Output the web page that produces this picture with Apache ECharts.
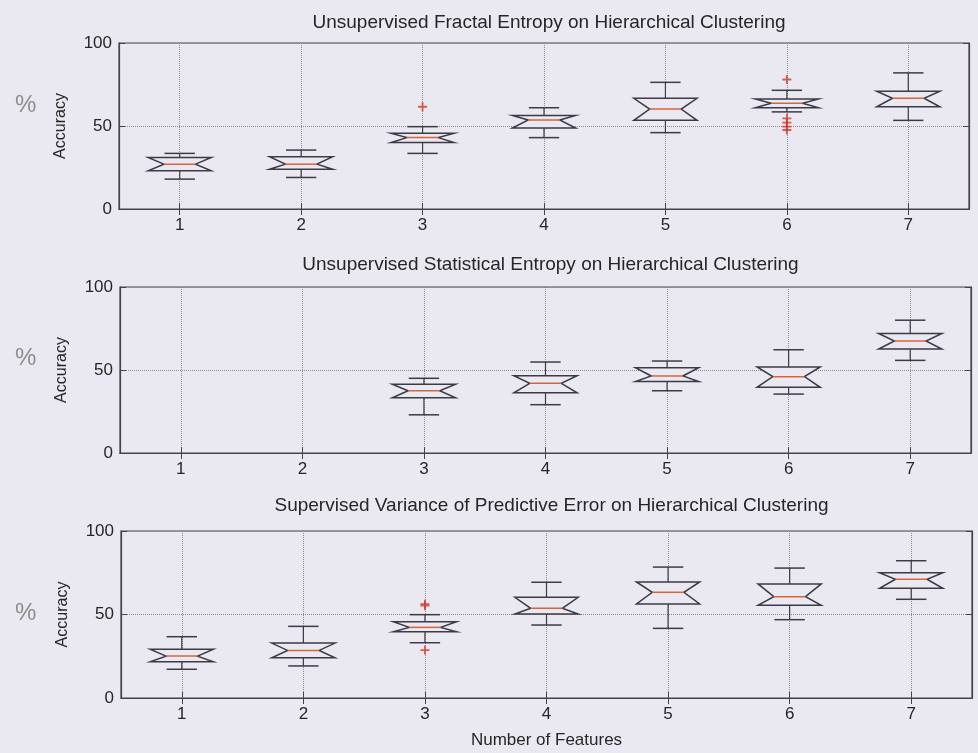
<!DOCTYPE html>
<html>
<head>
<meta charset="utf-8">
<title>Accuracy vs Number of Features</title>
<script src="https://cdn.jsdelivr.net/npm/echarts@6/dist/echarts.min.js"></script>
<style>
  html, body { margin: 0; padding: 0; background: #eae9f1; }
  #chart { width: 978px; height: 753px; }
</style>
</head>
<body>
<div id="chart"></div>
<script>
// Feature counts along the x axis
const features = ['1', '2', '3', '4', '5', '6', '7'];
const yTicks = [0, 50, 100];

// Unsupervised Fractal Entropy on Hierarchical Clustering
const fractalLow      = [18.0, 19.0, 33.5, 43.0, 46.0, 58.5, 53.4];
const fractalQ1       = [23.0, 24.0, 40.0, 48.8, 53.4, 61.0, 61.6];
const fractalMedian   = [27.0, 27.0, 43.0, 53.6, 60.2, 63.7, 66.7];
const fractalQ3       = [31.0, 31.5, 45.6, 56.4, 66.7, 66.3, 70.9];
const fractalHigh     = [33.5, 35.5, 49.6, 61.0, 76.3, 71.5, 82.0];
const fractalOutliers = [['3', 61.6], ['6', 78.0], ['6', 54.6], ['6', 52.0], ['6', 49.6], ['6', 47.6]];

// Unsupervised Statistical Entropy on Hierarchical Clustering (no result for 1 and 2 features)
const statLow      = [null, null, 23.0, 29.1, 37.5, 35.5, 55.8];
const statQ1       = [null, null, 33.3, 36.3, 43.0, 39.6, 62.6];
const statMedian   = [null, null, 37.5, 42.0, 46.4, 46.0, 67.5];
const statQ3       = [null, null, 41.4, 46.6, 51.4, 51.8, 72.0];
const statHigh     = [null, null, 45.0, 54.8, 55.4, 62.2, 80.0];
const statOutliers = [];

// Supervised Variance of Predictive Error on Hierarchical Clustering
const varLow      = [17.2, 19.2, 33.1, 43.7, 41.7, 46.9, 59.1];
const varQ1       = [21.7, 24.1, 39.7, 50.3, 56.3, 55.5, 65.7];
const varMedian   = [25.1, 28.5, 42.3, 53.7, 63.3, 60.7, 71.1];
const varQ3       = [29.2, 32.9, 45.7, 60.3, 69.5, 68.3, 75.0];
const varHigh     = [36.7, 42.9, 49.9, 69.3, 78.4, 77.8, 82.2];
const varOutliers = [['3', 55.3], ['3', 56.2], ['3', 28.7]];

const panelTitles = [
  'Unsupervised Fractal Entropy on Hierarchical Clustering',
  'Unsupervised Statistical Entropy on Hierarchical Clustering',
  'Supervised Variance of Predictive Error on Hierarchical Clustering'
];

const FONT = '"Liberation Sans", Arial, sans-serif';
const INK = '#262626';
const BOX_INK = '#3b3b48';
const MEDIAN_INK = '#d8643c';
const OUTLIER_INK = '#d23a2a';
const GRID_INK = '#8a8a8a';

const panels = [
  { low: fractalLow, q1: fractalQ1, med: fractalMedian, q3: fractalQ3, high: fractalHigh, out: fractalOutliers },
  { low: statLow, q1: statQ1, med: statMedian, q3: statQ3, high: statHigh, out: statOutliers },
  { low: varLow, q1: varQ1, med: varMedian, q3: varQ3, high: varHigh, out: varOutliers }
];

const grids = [
  { left: 119, top: 43, width: 850, height: 166 },
  { left: 120, top: 287, width: 851, height: 166 },
  { left: 121, top: 531, width: 851, height: 167 }
];
const titleY = [8, 250, 491];

// Notched box: bow-tie outline between the quartiles, median bar, whiskers and caps
function renderNotchedBox(params, api) {
  const idx = api.value(0);
  const pLo = api.coord([idx, api.value(1)]);
  const pQ1 = api.coord([idx, api.value(2)]);
  const pMd = api.coord([idx, api.value(3)]);
  const pQ3 = api.coord([idx, api.value(4)]);
  const pHi = api.coord([idx, api.value(5)]);
  const band = api.size([1, 0])[0];
  const half = band * 0.26;
  const inset = half * 0.5;
  const cap = band * 0.125;
  const cx = pMd[0];
  return {
    type: 'group',
    children: [
      { type: 'line', shape: { x1: cx, y1: pQ3[1], x2: cx, y2: pHi[1] }, style: { stroke: BOX_INK, lineWidth: 1.2 } },
      { type: 'line', shape: { x1: cx, y1: pQ1[1], x2: cx, y2: pLo[1] }, style: { stroke: BOX_INK, lineWidth: 1.2 } },
      { type: 'line', shape: { x1: cx - cap, y1: pHi[1], x2: cx + cap, y2: pHi[1] }, style: { stroke: BOX_INK, lineWidth: 1.5 } },
      { type: 'line', shape: { x1: cx - cap, y1: pLo[1], x2: cx + cap, y2: pLo[1] }, style: { stroke: BOX_INK, lineWidth: 1.5 } },
      {
        type: 'polygon',
        shape: {
          points: [
            [cx - half, pQ3[1]], [cx + half, pQ3[1]],
            [cx + half - inset, pMd[1]],
            [cx + half, pQ1[1]], [cx - half, pQ1[1]],
            [cx - half + inset, pMd[1]]
          ]
        },
        style: { stroke: BOX_INK, lineWidth: 1.5, fill: '#eae9f1' }
      },
      { type: 'line', shape: { x1: cx - half + inset, y1: pMd[1], x2: cx + half - inset, y2: pMd[1] }, style: { stroke: MEDIAN_INK, lineWidth: 1.5 } }
    ]
  };
}

const xAxes = [];
const yAxes = [];
const series = [];

panels.forEach((p, i) => {
  const isLast = i === panels.length - 1;
  xAxes.push({
    type: 'category', gridIndex: i, data: features, position: 'bottom',
    boundaryGap: true,
    axisLine: { show: true, lineStyle: { color: '#444', width: 1.2 } },
    axisTick: { show: true, inside: true, length: 6, alignWithLabel: true, lineStyle: { color: '#444' } },
    axisLabel: { color: INK, fontFamily: FONT, fontSize: 17, margin: 8 },
    splitLine: { show: true, alignWithLabel: true, lineStyle: { color: GRID_INK, type: 'dotted', width: 1 } },
    name: isLast ? 'Number of Features' : '',
    nameLocation: 'middle', nameGap: 34,
    nameTextStyle: { color: INK, fontFamily: FONT, fontSize: 17 }
  });
  xAxes.push({
    type: 'category', gridIndex: i, data: features, position: 'top',
    boundaryGap: true,
    axisLine: { show: true, lineStyle: { color: '#444', width: 1.2 } },
    axisTick: { show: true, inside: true, length: 6, alignWithLabel: true, lineStyle: { color: '#444' } },
    axisLabel: { show: false },
    splitLine: { show: false }
  });
  yAxes.push({
    type: 'value', gridIndex: i, min: 0, max: 100, interval: 50, position: 'left',
    axisLine: { show: true, lineStyle: { color: '#444', width: 1.2 } },
    axisTick: { show: true, inside: true, length: 6, lineStyle: { color: '#444' } },
    axisLabel: {
      color: INK, fontFamily: FONT, fontSize: 17, margin: 7,
      formatter: v => (yTicks.indexOf(v) >= 0 ? String(v) : '')
    },
    splitLine: { show: true, lineStyle: { color: GRID_INK, type: 'dotted', width: 1 } },
    name: 'Accuracy', nameLocation: 'middle', nameGap: 50, nameRotate: 90,
    nameTextStyle: { color: INK, fontFamily: FONT, fontSize: 16 }
  });
  yAxes.push({
    type: 'value', gridIndex: i, min: 0, max: 100, interval: 50, position: 'right',
    axisLine: { show: true, lineStyle: { color: '#444', width: 1.2 } },
    axisTick: { show: true, inside: true, length: 6, lineStyle: { color: '#444' } },
    axisLabel: { show: false },
    splitLine: { show: false }
  });

  const boxData = [];
  features.forEach((f, k) => {
    if (p.med[k] == null) return;
    boxData.push([k, p.low[k], p.q1[k], p.med[k], p.q3[k], p.high[k]]);
  });
  series.push({
    type: 'custom', name: panelTitles[i],
    xAxisIndex: i * 2, yAxisIndex: i * 2,
    renderItem: renderNotchedBox,
    encode: { x: 0, y: [1, 2, 3, 4, 5] },
    data: boxData, z: 3, silent: true
  });
  series.push({
    type: 'scatter', xAxisIndex: i * 2, yAxisIndex: i * 2,
    symbol: 'path://M4,0h2v4h4v2h-4v4h-2v-4h-4v-2h4z',
    symbolSize: 9,
    itemStyle: { color: OUTLIER_INK },
    data: p.out, z: 4, silent: true
  });
});

const chart = echarts.init(document.getElementById('chart'), null, { renderer: 'canvas' });
chart.setOption({
  backgroundColor: '#eae9f1',
  animation: false,
  title: panelTitles.map((t, i) => ({
    text: t,
    left: grids[i].left + grids[i].width / 2,
    top: titleY[i],
    textAlign: 'center',
    textStyle: { color: INK, fontFamily: FONT, fontSize: 19, fontWeight: 'normal' }
  })),
  grid: grids.map(g => Object.assign({ show: true, borderColor: '#444', borderWidth: 1.2, backgroundColor: 'transparent', containLabel: false }, g)),
  xAxis: xAxes,
  yAxis: yAxes,
  graphic: grids.map((g, i) => ({
    type: 'text',
    left: 15,
    top: [93, 346, 601][i],
    style: { text: '%', fill: '#8c8c8c', font: '24px ' + FONT }
  })),
  series: series
});
</script>
</body>
</html>
